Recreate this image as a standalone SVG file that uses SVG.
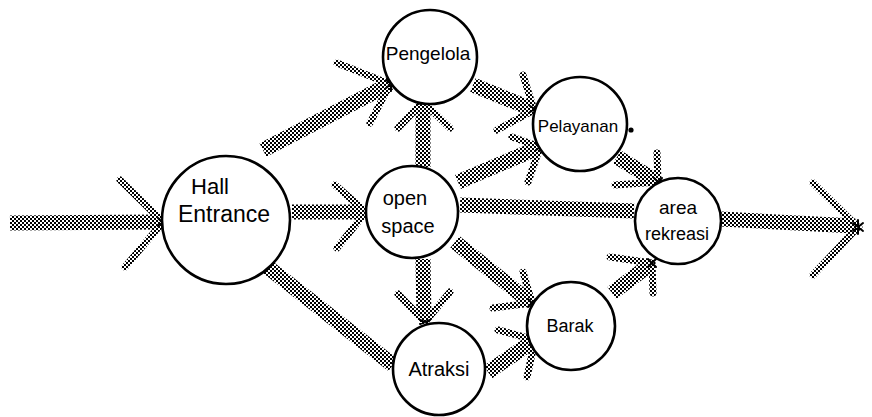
<svg xmlns="http://www.w3.org/2000/svg" width="872" height="417" viewBox="0 0 872 417">
<defs>
<pattern id="dots" width="4" height="4" patternUnits="userSpaceOnUse">
<rect x="0" y="0" width="2" height="2" fill="#000"/>
<rect x="2" y="2" width="2" height="2" fill="#000"/>
</pattern>
</defs>
<style>
.band{fill:none;stroke:url(#dots);stroke-width:15;stroke-linecap:butt}
.arm{fill:none;stroke:url(#dots);stroke-width:7;stroke-linecap:round}
.tip{fill:none;stroke:#000;stroke-width:2;stroke-linecap:round}
.node circle{fill:#fff;stroke:#000;stroke-width:2.6}
.lbl{font-family:"Liberation Sans","DejaVu Sans",sans-serif;fill:#000;text-anchor:middle}
</style>
<rect width="872" height="417" fill="#fff"/>
<g id="connectors">
<!-- input -> Hall Entrance -->
<path class="band" d="M10,223 L160,222"/>
<path class="arm" d="M120,180 L163,222 L125,267"/>
<!-- Hall -> Pengelola -->
<path class="band" d="M263,150 L390,84"/>
<path class="arm" d="M337,63 L390,84 L370,123"/>
<!-- Hall -> open space -->
<path class="band" d="M292,212 L364,212"/>
<path class="arm" d="M335,185 L366,212 L337,248"/>
<!-- Hall -> Atraksi -->
<path class="band" d="M265,265 L393,365"/>
<!-- open space -> Pengelola -->
<path class="band" d="M423,167 L423,104"/>
<path class="arm" d="M398,128 L423,102 L450,128"/>
<!-- open space -> Atraksi -->
<path class="band" d="M423,259 L424,320"/>
<path class="arm" d="M398,294 L425,322 L450,292"/>
<!-- Pengelola -> Pelayanan -->
<path class="band" d="M473,85 L532,109"/>
<path class="arm" d="M523,75 L534,110 L497,130"/>
<!-- open space -> Pelayanan -->
<path class="band" d="M458,182 L538,148"/>
<path class="arm" d="M512,137 L540,147 L528,182"/>
<!-- open space -> area rekreasi -->
<path class="band" d="M460,205 L634,211"/>
<!-- open space -> Barak -->
<path class="band" d="M455,242 L530,302"/>
<path class="arm" d="M523,272 L532,303 L493,308"/>
<!-- Atraksi -> Barak -->
<path class="band" d="M488,372 L532,342"/>
<path class="arm" d="M498,330 L535,340 L527,377"/>
<!-- Pelayanan -> area rekreasi -->
<path class="band" d="M617,157 L656,181"/>
<path class="arm" d="M657,153 L658,182 L615,185"/>
<!-- Barak -> area rekreasi -->
<path class="band" d="M612,293 L651,264"/>
<path class="arm" d="M610,257 L652,263 L653,293"/>
<!-- area rekreasi -> output -->
<path class="band" d="M721,219 L855,226"/>
<path class="arm" d="M813,183 L858,227 L813,275"/>
<!-- arrival marks -->
<g class="tip">
<path d="M158,218 L166,226 M158,226 L166,218 M162,216 L162,228"/>
<path d="M386,80 L396,88 M386,88 L396,80 M391,78 L391,90"/>
<path d="M418,100 L428,104 M418,104 L428,100"/>
<path d="M420,320 L430,324 M420,324 L430,320"/>
<path d="M530,106 L540,112 M530,112 L540,106"/>
<path d="M536,144 L544,150 M536,150 L544,144"/>
<path d="M528,299 L536,307 M528,307 L536,299"/>
<path d="M531,336 L539,344 M531,344 L539,336"/>
<path d="M654,178 L662,186 M654,186 L662,178"/>
<path d="M648,259 L656,267 M648,267 L656,259"/>
<path d="M853,223 L863,231 M853,231 L863,223 M858,220 L858,234"/>
</g>
</g>
<g id="hall-entrance" class="node">
<circle cx="226" cy="220" r="64"/>
<text class="lbl" x="210" y="194" font-size="22">Hall</text>
<text class="lbl" x="224" y="222" font-size="23">Entrance</text>
</g>
<g id="pengelola" class="node">
<circle cx="430" cy="57" r="47"/>
<text class="lbl" x="428" y="60" font-size="19">Pengelola</text>
</g>
<g id="open-space" class="node">
<circle cx="412" cy="212" r="46"/>
<text class="lbl" x="405" y="205" font-size="20">open</text>
<text class="lbl" x="408" y="233" font-size="20">space</text>
</g>
<g id="atraksi" class="node">
<circle cx="439" cy="369" r="46"/>
<text class="lbl" x="439" y="376" font-size="20">Atraksi</text>
</g>
<g id="pelayanan" class="node">
<circle cx="580" cy="124" r="47"/>
<text class="lbl" x="578" y="132" font-size="17">Pelayanan</text>
<circle cx="631" cy="130" r="1.3" fill="#000" stroke="none"/>
</g>
<g id="barak" class="node">
<circle cx="571" cy="326" r="44"/>
<text class="lbl" x="570" y="332" font-size="18">Barak</text>
</g>
<g id="area-rekreasi" class="node">
<circle cx="678" cy="221" r="43"/>
<text class="lbl" x="678" y="214" font-size="19">area</text>
<text class="lbl" x="677" y="240" font-size="18">rekreasi</text>
</g>
</svg>
